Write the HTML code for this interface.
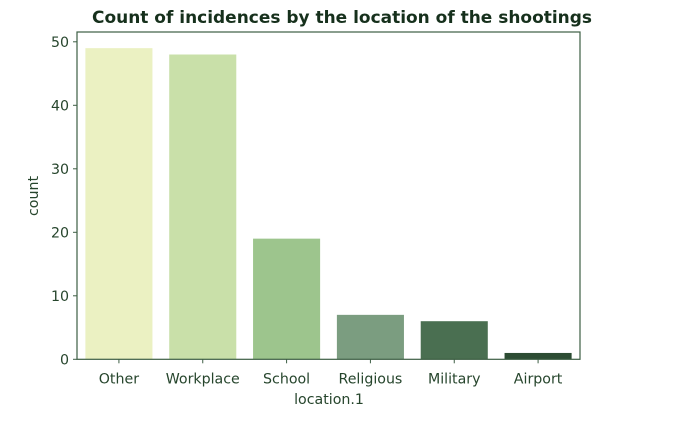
<!DOCTYPE html>
<html><head><meta charset="utf-8"><style>
body{margin:0;background:#fff;width:678px;height:419px;overflow:hidden}
svg{font-family:"DejaVu Sans","Liberation Sans",sans-serif}
</style></head><body>
<svg width="678" height="419">
<g id="bars"></g>
<g id="axes"></g>
</svg>
<script>
const categories=["Other","Workplace","School","Religious","Military","Airport"];
const counts=[49,48,19,7,6,1];
const colors=["#ebf1c2","#c9e0a9","#9dc58d","#7b9d80","#4a6f51","#2c4c33"];
const yTicks=[0,10,20,30,40,50];
const NS="http://www.w3.org/2000/svg";
const L=77,R=580,T=32,B=359.3,ppu=6.35;
const y=v=>B-v*ppu;
const band=(R-L)/categories.length;
const x=i=>L+band*(i+0.5);
function mk(tag,attrs,parent,text){const e=document.createElementNS(NS,tag);for(const k in attrs)e.setAttribute(k,attrs[k]);if(text!==undefined)e.textContent=text;parent.appendChild(e);return e;}
const gb=document.getElementById('bars');
categories.forEach((c,i)=>{
 const w=band*0.8;
 const r=mk('rect',{x:x(i)-w/2,y:y(counts[i]),width:w,height:B-y(counts[i]),fill:colors[i]},gb);
 
 
 mk('line',{x1:x(i),x2:x(i),y1:B,y2:B+4,stroke:'#3d5e44'},gb);
 const t=mk('text',{x:x(i),y:B+24,'text-anchor':'middle','font-size':'14.2',fill:'#26452c'},gb,c);
 
 
});
const ga=document.getElementById('axes');
yTicks.forEach(v=>{
 mk('line',{x1:L-4,x2:L,y1:y(v),y2:y(v),stroke:'#3d5e44'},ga);
 const t=mk('text',{x:L-8,y:y(v)+5,'text-anchor':'end','font-size':'14.2',fill:'#26452c'},ga,v);
 
 
});
const fr=mk('rect',{x:L,y:T,width:R-L,height:B-T,fill:'none',stroke:'#3d5e44','stroke-width':1.2},ga);


const ti=mk('text',{x:342,y:23,'text-anchor':'middle','font-size':'16.5','font-weight':'bold',fill:'#16301c',textLength:'500',lengthAdjust:'spacingAndGlyphs'},ga,'Count of incidences by the location of the shootings');


const xl=mk('text',{x:329,y:404,'text-anchor':'middle','font-size':'14.2',fill:'#26452c'},ga,'location.1');


const yl=mk('text',{x:0,y:0,transform:'translate(38,196) rotate(-90)','text-anchor':'middle','font-size':'14.2',fill:'#26452c'},ga,'count');


</script>
</body></html>
